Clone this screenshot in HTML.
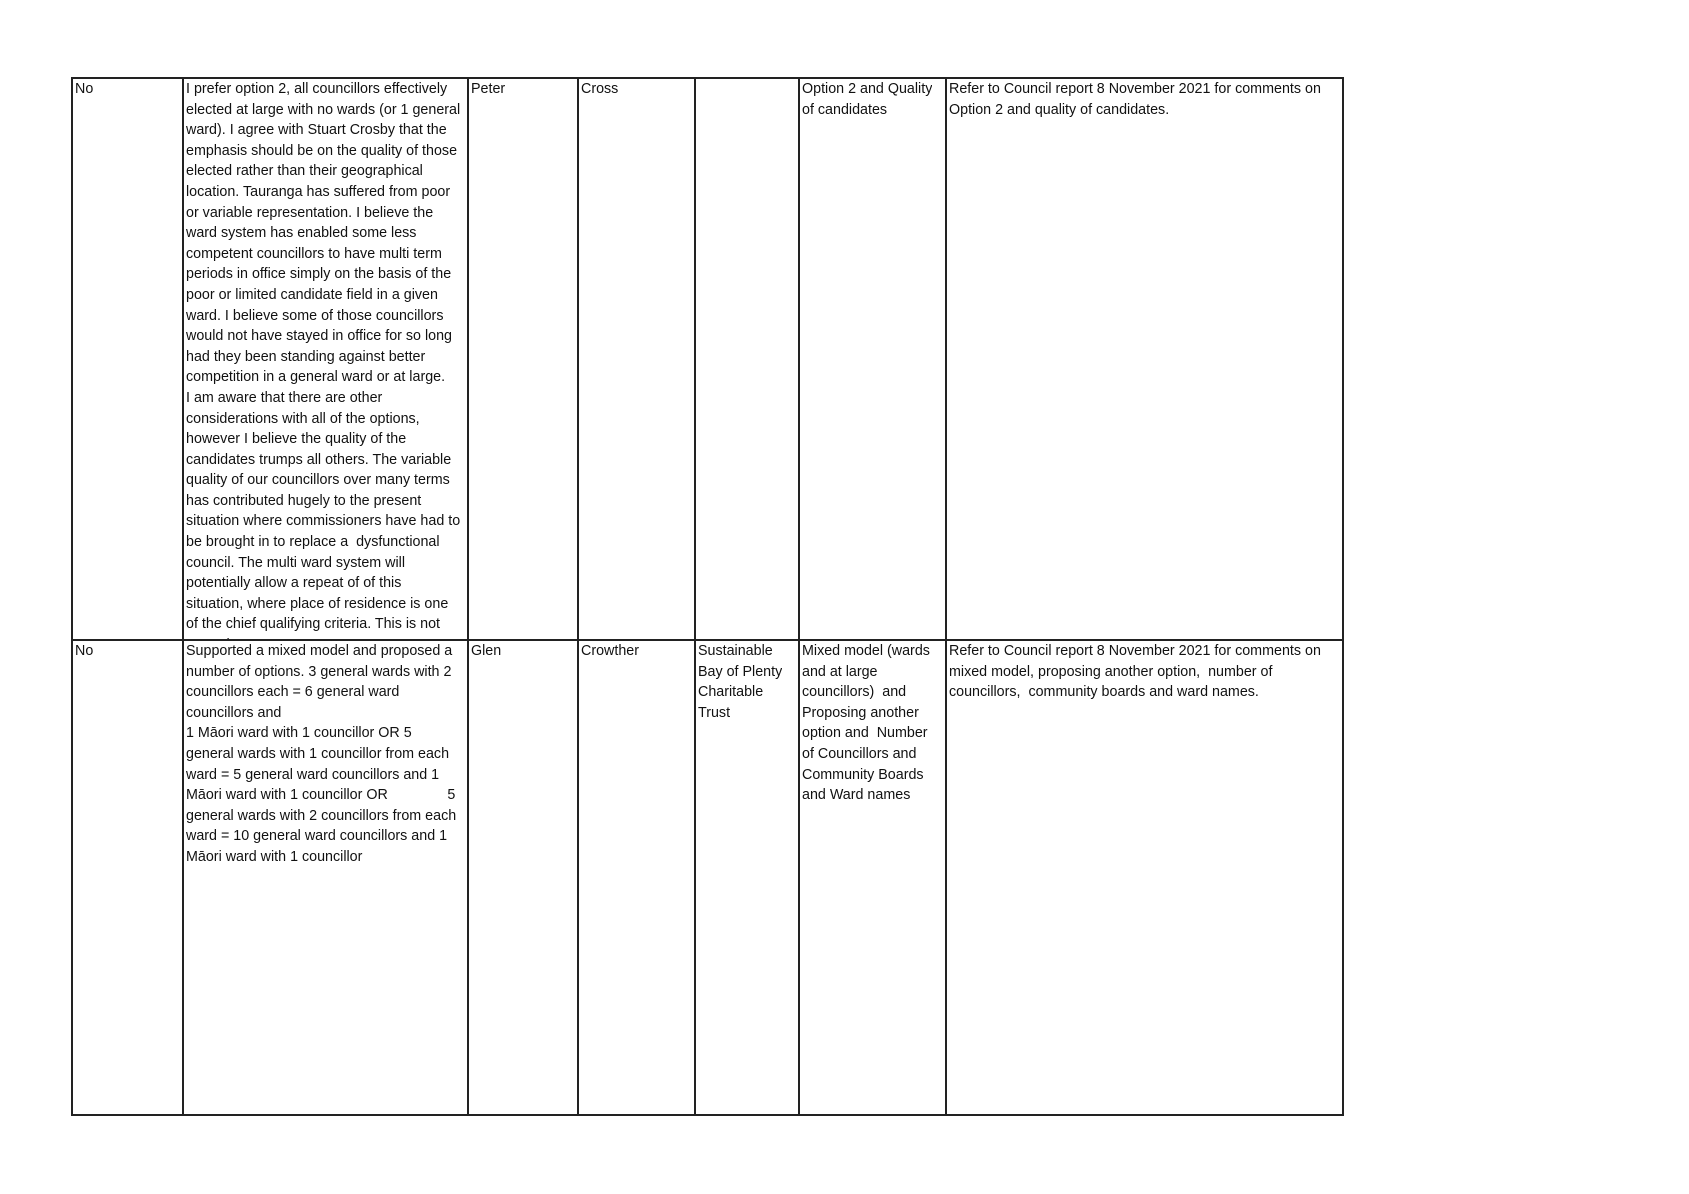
<!DOCTYPE html>
<html><head><meta charset="utf-8"><style>
body{margin:0;background:#fff;width:1689px;height:1194px;position:relative;overflow:hidden;font-family:"Liberation Sans",Arial,sans-serif;font-size:14.3px;color:#111}
.v{position:absolute;width:2px;background:#222}
.h{position:absolute;height:2px;background:#222}
.c{position:absolute;white-space:pre;line-height:20.6px;overflow:hidden}
</style></head><body>
<div class="h" style="left:71px;top:77px;width:1273px"></div>
<div class="h" style="left:71px;top:639px;width:1273px"></div>
<div class="h" style="left:71px;top:1114px;width:1273px"></div>
<div class="v" style="left:71px;top:77px;height:1039px"></div>
<div class="v" style="left:182px;top:77px;height:1039px"></div>
<div class="v" style="left:467px;top:77px;height:1039px"></div>
<div class="v" style="left:577px;top:77px;height:1039px"></div>
<div class="v" style="left:694px;top:77px;height:1039px"></div>
<div class="v" style="left:798px;top:77px;height:1039px"></div>
<div class="v" style="left:945px;top:77px;height:1039px"></div>
<div class="v" style="left:1342px;top:77px;height:1039px"></div>

<div class="c" style="left:75px;top:79px">No</div>
<div class="c" style="left:186px;top:79px;height:560px;width:280px">I prefer option 2, all councillors effectively
elected at large with no wards (or 1 general
ward). I agree with Stuart Crosby that the
emphasis should be on the quality of those
elected rather than their geographical
location. Tauranga has suffered from poor
or variable representation. I believe the
ward system has enabled some less
competent councillors to have multi term
periods in office simply on the basis of the
poor or limited candidate field in a given
ward. I believe some of those councillors
would not have stayed in office for so long
had they been standing against better
competition in a general ward or at large.
I am aware that there are other
considerations with all of the options,
however I believe the quality of the
candidates trumps all others. The variable
quality of our councillors over many terms
has contributed hugely to the present
situation where commissioners have had to
be brought in to replace a  dysfunctional
council. The multi ward system will
potentially allow a repeat of of this
situation, where place of residence is one
of the chief qualifying criteria. This is not
a good...</div>
<div class="c" style="left:471px;top:79px">Peter</div>
<div class="c" style="left:581px;top:79px">Cross</div>
<div class="c" style="left:802px;top:79px">Option 2 and Quality
of candidates</div>
<div class="c" style="left:949px;top:79px">Refer to Council report 8 November 2021 for comments on
Option 2 and quality of candidates.</div>

<div class="c" style="left:75px;top:641px">No</div>
<div class="c" style="left:186px;top:641px">Supported a mixed model and proposed a
number of options. 3 general wards with 2
councillors each = 6 general ward
councillors and
1 Māori ward with 1 councillor OR 5
general wards with 1 councillor from each
ward = 5 general ward councillors and 1
Māori ward with 1 councillor OR               5
general wards with 2 councillors from each
ward = 10 general ward councillors and 1
Māori ward with 1 councillor</div>
<div class="c" style="left:471px;top:641px">Glen</div>
<div class="c" style="left:581px;top:641px">Crowther</div>
<div class="c" style="left:698px;top:641px">Sustainable
Bay of Plenty
Charitable
Trust</div>
<div class="c" style="left:802px;top:641px">Mixed model (wards
and at large
councillors)  and
Proposing another
option and  Number
of Councillors and
Community Boards
and Ward names</div>
<div class="c" style="left:949px;top:641px">Refer to Council report 8 November 2021 for comments on
mixed model, proposing another option,  number of
councillors,  community boards and ward names.</div>
</body></html>
